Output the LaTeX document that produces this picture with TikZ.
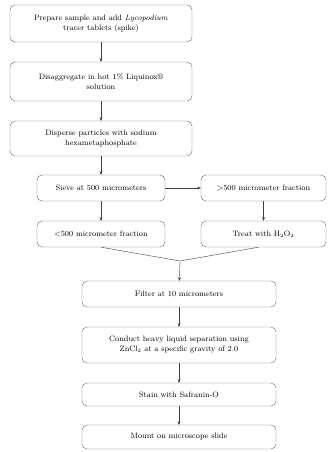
\documentclass[tikz,border=0pt]{standalone}
\usetikzlibrary{arrows.meta}
\tikzstyle{stage}=[draw=black!60,rounded corners=5pt,align=center,inner sep=2pt,font=\fontsize{7.8}{10}\selectfont]
\tikzstyle{flow}=[draw=black!75,-{Stealth[length=3.5pt,width=3pt]}]
\begin{document}
\begin{tikzpicture}[x=1pt,y=-1pt]
  \useasboundingbox (0,0) rectangle (327,452);
  \node[stage,minimum width=182pt,minimum height=37pt] (prep) at (101,23.5) {Prepare sample and add \textit{Lycopodium}\\tracer tablets (spike)};
  \node[stage,minimum width=182pt,minimum height=39pt] (disagg) at (101,81.5) {Disaggregate in hot 1\% Liquinox\textregistered\\solution};
  \node[stage,minimum width=182pt,minimum height=35pt] (disp) at (101,138.5) {Disperse particles with sodium\\hexametaphosphate};
  \node[stage,minimum width=128pt,minimum height=26pt] (sieve) at (101,188) {Sieve at 500 micrometers};
  \node[stage,minimum width=125pt,minimum height=26pt] (coarse) at (263.5,188) {>500 micrometer fraction};
  \node[stage,minimum width=128pt,minimum height=26pt] (fine) at (101,234) {<500 micrometer fraction};
  \node[stage,minimum width=125pt,minimum height=26pt] (treat) at (263.5,234) {Treat with H$_2$O$_2$};
  \node[stage,minimum width=194pt,minimum height=26pt] (filter) at (179,294) {Filter at 10 micrometers};
  \node[stage,minimum width=194pt,minimum height=36pt] (heavy) at (179,345) {Conduct heavy liquid separation using\\ZnCl$_2$ at a specific gravity of 2.0};
  \node[stage,minimum width=194pt,minimum height=23pt] (stain) at (179,394.5) {Stain with Safranin-O};
  \node[stage,minimum width=194pt,minimum height=24pt] (mount) at (179,437) {Mount on microscope slide};
  \coordinate (join) at (180,261);

  \draw[flow] (prep) -- (disagg);
  \draw[flow] (disagg) -- (disp);
  \draw[flow] (disp) -- (sieve);
  \draw[flow] (sieve) -- (coarse);
  \draw[flow] (sieve) -- (fine);
  \draw[flow] (coarse) -- (treat);
  \draw[draw=black!75] (fine.south) -- (join) -- ([xshift=-5pt]treat.south);
  \draw[flow] (join) -- (filter);
  \draw[flow] (filter) -- (heavy);
  \draw[flow] (heavy) -- (stain);
  \draw[flow] (stain) -- (mount);
\end{tikzpicture}
\end{document}
